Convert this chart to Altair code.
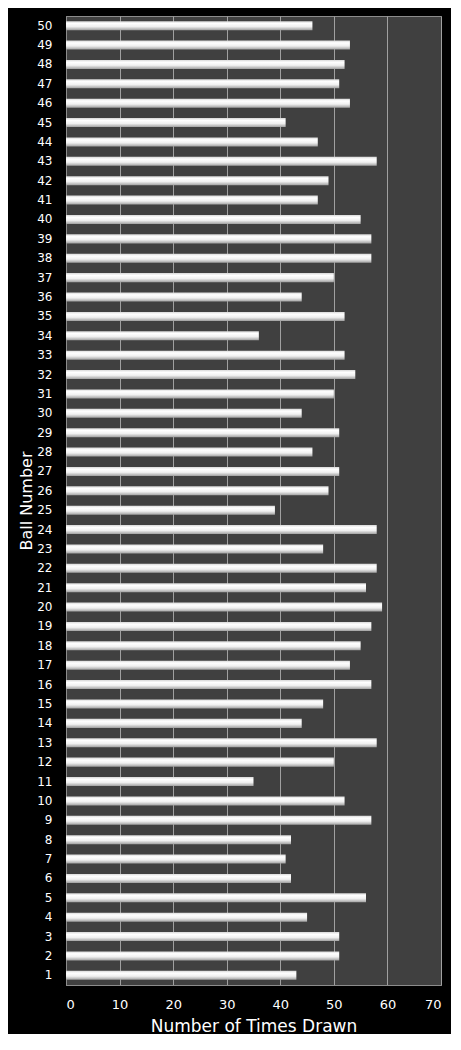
import altair as alt
import pandas as pd

balls = list(range(1, 51))
times = [43, 51, 51, 45, 56, 42, 41, 42, 57, 52,
         35, 50, 58, 44, 48, 57, 53, 55, 57, 59,
         56, 58, 48, 58, 39, 49, 51, 46, 51, 44,
         50, 54, 52, 36, 52, 44, 50, 57, 57, 55,
         47, 49, 58, 47, 41, 53, 51, 52, 53, 46]
x_ticks = [0, 10, 20, 30, 40, 50, 60, 70]

df = pd.DataFrame({"Ball": balls, "Times": times})

bar_fill = alt.Gradient(
    gradient="linear",
    x1=0, y1=0, x2=0, y2=1,
    stops=[
        alt.GradientStop(color="#d8d8d8", offset=0),
        alt.GradientStop(color="#ffffff", offset=0.25),
        alt.GradientStop(color="#f0f0f0", offset=0.6),
        alt.GradientStop(color="#a0a0a0", offset=1),
    ],
)

FONT = "DejaVu Sans"

chart = (
    alt.Chart(df)
    .mark_bar(color=bar_fill)
    .encode(
        x=alt.X(
            "Times:Q",
            scale=alt.Scale(domain=[0, 70], nice=False),
            axis=alt.Axis(
                values=x_ticks,
                title="Number of Times Drawn",
                ticks=False,
                labelPadding=13,
                titlePadding=7,
                labelFontSize=13,
                titleFontSize=17,
                titleFontWeight="normal",
                domainColor="#8c8c8c",
                gridColor="#a0a0a0",
                gridWidth=1,
            ),
        ),
        y=alt.Y(
            "Ball:O",
            sort="descending",
            scale=alt.Scale(paddingInner=0.535),
            axis=alt.Axis(
                title="Ball Number",
                ticks=False,
                grid=False,
                labelPadding=14,
                titlePadding=2,
                labelFontSize=12,
                titleFontSize=16,
                titleFontWeight="normal",
                domainColor="#8c8c8c",
            ),
        ),
    )
    .properties(
        width=375,
        height=969,
        background="black",
        padding={"left": 58, "top": 8, "right": 10, "bottom": 49},
        autosize=alt.AutoSizeParams(type="none"),
    )
    .configure_view(fill="#404040", stroke="#8c8c8c")
    .configure_axis(
        labelColor="white",
        titleColor="white",
        labelFont=FONT,
        titleFont=FONT,
    )
)

chart.save("out.html", embed_options={"renderer": "svg", "actions": False})
